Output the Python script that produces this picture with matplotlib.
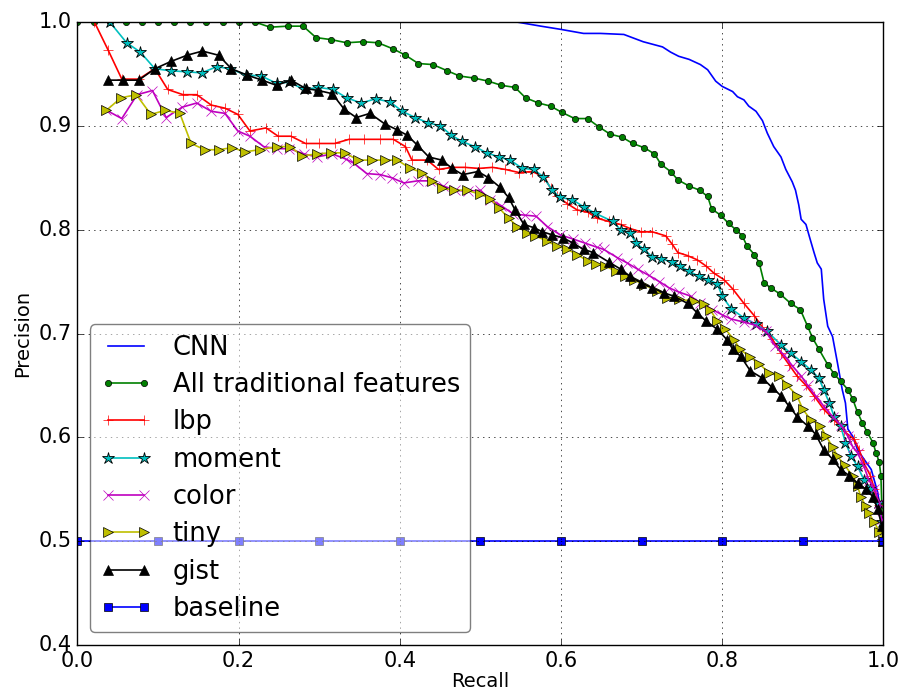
import matplotlib
matplotlib.use("Agg")
import matplotlib.pyplot as plt

# Precision/recall curves for each feature type
cnn_recall = [0.0, 0.545, 0.56, 0.575, 0.599, 0.628, 0.649, 0.678, 0.702, 0.726, 0.736, 0.746,
              0.759, 0.773, 0.782, 0.792, 0.800, 0.813, 0.819, 0.827, 0.833, 0.842, 0.850,
              0.856, 0.864, 0.873, 0.879, 0.887, 0.891, 0.895, 0.898, 0.904, 0.908, 0.914,
              0.918, 0.923, 0.926, 0.931, 0.937, 0.943, 0.949, 0.953, 0.956, 0.962, 0.968,
              0.976, 0.985, 0.993, 0.9975, 1.0]
cnn_precision = [1.0, 1.0, 0.998, 0.996, 0.993, 0.989, 0.989, 0.988, 0.981, 0.976, 0.971, 0.967,
                 0.964, 0.959, 0.954, 0.943, 0.938, 0.933, 0.928, 0.925, 0.919, 0.914, 0.905,
                 0.893, 0.880, 0.870, 0.858, 0.846, 0.838, 0.824, 0.810, 0.805, 0.794, 0.778,
                 0.768, 0.762, 0.733, 0.707, 0.697, 0.672, 0.646, 0.633, 0.608, 0.601, 0.588,
                 0.579, 0.569, 0.547, 0.524, 0.5]

all_recall = [0.0, 0.02, 0.04, 0.06, 0.08, 0.10, 0.12, 0.14, 0.16, 0.18, 0.20, 0.22,
              0.239, 0.261, 0.280, 0.296, 0.315, 0.334, 0.354, 0.373, 0.392, 0.407, 0.423,
              0.441, 0.459, 0.474, 0.492, 0.510, 0.526, 0.543, 0.556, 0.572, 0.587, 0.601,
              0.617, 0.633, 0.647, 0.661, 0.676, 0.689, 0.703, 0.716, 0.724, 0.736, 0.745,
              0.759, 0.772, 0.782, 0.787, 0.798, 0.808, 0.817, 0.825, 0.831, 0.840, 0.846,
              0.852, 0.860, 0.872, 0.885, 0.897, 0.906, 0.912, 0.920, 0.931, 0.939, 0.947,
              0.956, 0.962, 0.968, 0.974, 0.980, 0.987, 0.991, 0.995, 0.997, 0.998, 0.999, 1.0]
all_precision = [1.0, 1.0, 1.0, 1.0, 1.0, 1.0, 1.0, 1.0, 1.0, 1.0, 1.0, 1.0,
                 0.995, 0.996, 0.996, 0.985, 0.983, 0.980, 0.981, 0.980, 0.974, 0.968, 0.960,
                 0.959, 0.953, 0.948, 0.946, 0.943, 0.939, 0.937, 0.927, 0.922, 0.919, 0.913,
                 0.907, 0.907, 0.899, 0.892, 0.889, 0.883, 0.879, 0.873, 0.863, 0.856, 0.848,
                 0.842, 0.838, 0.832, 0.820, 0.814, 0.806, 0.800, 0.794, 0.784, 0.776, 0.768,
                 0.749, 0.744, 0.738, 0.729, 0.723, 0.707, 0.696, 0.685, 0.670, 0.661, 0.654,
                 0.646, 0.637, 0.624, 0.614, 0.605, 0.595, 0.585, 0.576, 0.563, 0.537, 0.514, 0.5]

lbp_recall = [0.021, 0.038, 0.055, 0.076, 0.096, 0.112, 0.131, 0.148, 0.166, 0.183, 0.199,
              0.214, 0.234, 0.249, 0.265, 0.283, 0.300, 0.319, 0.337, 0.356, 0.376, 0.392,
              0.407, 0.415, 0.434, 0.448, 0.465, 0.481, 0.498, 0.515, 0.531, 0.548, 0.564,
              0.579, 0.587, 0.595, 0.608, 0.620, 0.633, 0.645, 0.659, 0.674, 0.686, 0.699,
              0.713, 0.730, 0.738, 0.745, 0.757, 0.769, 0.780, 0.790, 0.802, 0.813, 0.827,
              0.840, 0.850, 0.862, 0.873, 0.883, 0.893, 0.904, 0.914, 0.926, 0.939, 0.951,
              0.964, 0.970, 0.976, 0.984, 0.989, 0.995, 0.998, 1.0]
lbp_precision = [1.0, 0.973, 0.945, 0.945, 0.955, 0.935, 0.930, 0.930, 0.920, 0.917, 0.911,
                 0.895, 0.898, 0.890, 0.890, 0.883, 0.883, 0.883, 0.887, 0.887, 0.887, 0.887,
                 0.880, 0.867, 0.867, 0.858, 0.860, 0.860, 0.859, 0.860, 0.858, 0.855, 0.856,
                 0.851, 0.840, 0.832, 0.825, 0.819, 0.817, 0.811, 0.808, 0.805, 0.801, 0.798,
                 0.798, 0.794, 0.786, 0.778, 0.775, 0.771, 0.765, 0.758, 0.752, 0.743, 0.729,
                 0.717, 0.706, 0.695, 0.681, 0.670, 0.659, 0.650, 0.640, 0.627, 0.617, 0.606,
                 0.598, 0.588, 0.575, 0.563, 0.550, 0.535, 0.518, 0.5]

moment_recall = [0.04, 0.061, 0.078, 0.096, 0.116, 0.136, 0.154, 0.173, 0.189, 0.209, 0.228,
                 0.247, 0.263, 0.281, 0.299, 0.317, 0.334, 0.352, 0.370, 0.388, 0.403, 0.419,
                 0.435, 0.450, 0.464, 0.477, 0.493, 0.508, 0.523, 0.537, 0.552, 0.566, 0.578,
                 0.589, 0.599, 0.614, 0.628, 0.642, 0.664, 0.674, 0.686, 0.693, 0.703, 0.713,
                 0.724, 0.738, 0.748, 0.759, 0.771, 0.782, 0.794, 0.800, 0.811, 0.827, 0.842,
                 0.856, 0.873, 0.885, 0.898, 0.910, 0.920, 0.926, 0.933, 0.939, 0.947, 0.953,
                 0.960, 0.968, 0.976, 0.984, 0.993, 0.998, 1.0]
moment_precision = [1.0, 0.980, 0.971, 0.955, 0.953, 0.952, 0.951, 0.957, 0.955, 0.949, 0.948,
                    0.941, 0.942, 0.935, 0.937, 0.935, 0.927, 0.922, 0.926, 0.923, 0.914, 0.908,
                    0.903, 0.900, 0.891, 0.885, 0.880, 0.874, 0.870, 0.867, 0.859, 0.858, 0.851,
                    0.838, 0.831, 0.829, 0.822, 0.816, 0.808, 0.800, 0.797, 0.787, 0.781, 0.774,
                    0.772, 0.769, 0.765, 0.760, 0.755, 0.752, 0.748, 0.736, 0.724, 0.715, 0.709,
                    0.702, 0.689, 0.681, 0.673, 0.665, 0.657, 0.646, 0.633, 0.620, 0.611, 0.595,
                    0.582, 0.572, 0.559, 0.550, 0.537, 0.518, 0.5]

color_recall = [0.036, 0.055, 0.074, 0.093, 0.110, 0.130, 0.148, 0.166, 0.183, 0.199, 0.214,
                0.231, 0.247, 0.263, 0.281, 0.297, 0.316, 0.333, 0.343, 0.359, 0.376, 0.390,
                0.405, 0.422, 0.437, 0.454, 0.469, 0.484, 0.500, 0.512, 0.526, 0.541, 0.555,
                0.569, 0.583, 0.599, 0.615, 0.630, 0.645, 0.653, 0.670, 0.682, 0.695, 0.709,
                0.722, 0.734, 0.746, 0.761, 0.773, 0.788, 0.800, 0.811, 0.827, 0.841, 0.854,
                0.866, 0.877, 0.887, 0.898, 0.906, 0.916, 0.926, 0.937, 0.947, 0.956, 0.962,
                0.968, 0.976, 0.982, 0.989, 0.995, 0.998, 1.0]
color_precision = [0.915, 0.907, 0.930, 0.934, 0.908, 0.918, 0.922, 0.914, 0.912, 0.895, 0.890,
                   0.880, 0.878, 0.878, 0.873, 0.870, 0.873, 0.868, 0.864, 0.854, 0.853, 0.850,
                   0.845, 0.847, 0.847, 0.842, 0.838, 0.837, 0.838, 0.829, 0.823, 0.815, 0.814,
                   0.813, 0.803, 0.795, 0.791, 0.787, 0.783, 0.781, 0.773, 0.768, 0.762, 0.756,
                   0.750, 0.744, 0.740, 0.736, 0.729, 0.723, 0.718, 0.714, 0.711, 0.708, 0.702,
                   0.688, 0.679, 0.669, 0.659, 0.650, 0.640, 0.630, 0.620, 0.612, 0.601, 0.591,
                   0.585, 0.572, 0.559, 0.550, 0.537, 0.521, 0.5]

tiny_recall = [0.036, 0.054, 0.073, 0.091, 0.109, 0.127, 0.141, 0.158, 0.175, 0.192, 0.208,
               0.226, 0.247, 0.264, 0.279, 0.297, 0.314, 0.332, 0.348, 0.365, 0.382, 0.397,
               0.413, 0.428, 0.440, 0.452, 0.467, 0.483, 0.500, 0.512, 0.523, 0.535, 0.546,
               0.558, 0.568, 0.583, 0.595, 0.608, 0.620, 0.633, 0.644, 0.655, 0.668, 0.680,
               0.690, 0.703, 0.719, 0.732, 0.746, 0.765, 0.777, 0.785, 0.794, 0.804, 0.815,
               0.822, 0.835, 0.846, 0.858, 0.871, 0.881, 0.893, 0.900, 0.910, 0.922, 0.929,
               0.937, 0.943, 0.952, 0.962, 0.968, 0.972, 0.978, 0.982, 0.989, 0.995, 1.0]
tiny_precision = [0.915, 0.927, 0.930, 0.911, 0.915, 0.912, 0.883, 0.877, 0.877, 0.879, 0.875,
                  0.877, 0.880, 0.880, 0.871, 0.873, 0.874, 0.874, 0.867, 0.867, 0.867, 0.867,
                  0.859, 0.855, 0.847, 0.840, 0.838, 0.838, 0.834, 0.830, 0.821, 0.811, 0.803,
                  0.797, 0.794, 0.789, 0.784, 0.781, 0.776, 0.770, 0.767, 0.765, 0.760, 0.755,
                  0.752, 0.747, 0.741, 0.734, 0.733, 0.731, 0.728, 0.723, 0.712, 0.704, 0.694,
                  0.685, 0.677, 0.671, 0.662, 0.659, 0.650, 0.640, 0.627, 0.617, 0.611, 0.601,
                  0.591, 0.582, 0.573, 0.563, 0.553, 0.543, 0.534, 0.527, 0.518, 0.509, 0.5]

gist_recall = [0.038, 0.057, 0.076, 0.096, 0.116, 0.136, 0.155, 0.175, 0.191, 0.210, 0.229,
               0.247, 0.265, 0.283, 0.299, 0.316, 0.331, 0.346, 0.363, 0.381, 0.397, 0.409,
               0.421, 0.436, 0.452, 0.465, 0.478, 0.497, 0.510, 0.524, 0.535, 0.543, 0.554,
               0.566, 0.577, 0.589, 0.603, 0.615, 0.628, 0.640, 0.659, 0.674, 0.686, 0.699,
               0.713, 0.728, 0.740, 0.757, 0.769, 0.780, 0.794, 0.806, 0.813, 0.823, 0.835,
               0.850, 0.862, 0.873, 0.883, 0.893, 0.906, 0.916, 0.926, 0.937, 0.947, 0.958,
               0.968, 0.978, 0.987, 0.993, 0.998, 1.0]
gist_precision = [0.944, 0.944, 0.944, 0.955, 0.962, 0.968, 0.972, 0.968, 0.955, 0.949, 0.944,
                  0.939, 0.944, 0.936, 0.934, 0.931, 0.916, 0.908, 0.912, 0.902, 0.896, 0.891,
                  0.882, 0.870, 0.867, 0.859, 0.853, 0.856, 0.850, 0.841, 0.831, 0.819, 0.805,
                  0.802, 0.798, 0.795, 0.792, 0.787, 0.781, 0.778, 0.769, 0.762, 0.755, 0.749,
                  0.744, 0.739, 0.736, 0.729, 0.720, 0.712, 0.704, 0.694, 0.685, 0.678, 0.664,
                  0.657, 0.648, 0.640, 0.630, 0.620, 0.611, 0.603, 0.588, 0.579, 0.569, 0.563,
                  0.556, 0.550, 0.543, 0.531, 0.515, 0.5]

baseline_recall = [0.0, 0.1, 0.2, 0.3, 0.4, 0.5, 0.6, 0.7, 0.8, 0.9, 1.0]
baseline_precision = [0.5] * len(baseline_recall)

plt.style.use("classic")
plt.rcParams["figure.facecolor"] = "white"
plt.rcParams["savefig.facecolor"] = "white"
plt.rcParams["lines.linewidth"] = 1.2

fig = plt.figure(figsize=(9.02, 6.94), dpi=100)
ax = fig.add_axes([0.0859, 0.0706, 0.8934, 0.8977])

ax.plot(cnn_recall, cnn_precision, "b-", label="CNN")
ax.plot(all_recall, all_precision, "g.-", markersize=9, markeredgecolor="k",
        markeredgewidth=0.5, label="All traditional features")
ax.plot(lbp_recall, lbp_precision, "r+-", markersize=7, label="lbp")
ax.plot(moment_recall, moment_precision, "c*-", markersize=9, markeredgecolor="k",
        markeredgewidth=0.6, label="moment")
ax.plot(color_recall, color_precision, "mx-", markersize=7, label="color")
ax.plot(tiny_recall, tiny_precision, "y>-", markersize=7, markeredgecolor="k",
        markeredgewidth=0.5, label="tiny")
ax.plot(gist_recall, gist_precision, "k^-", markersize=7, label="gist")
ax.plot(baseline_recall, baseline_precision, "bs-", markersize=6, markeredgecolor="k",
        markeredgewidth=0.5, label="baseline")

ax.set_xlim(0.0, 1.0)
ax.set_ylim(0.4, 1.0)
ax.set_xlabel("Recall", fontsize=14, labelpad=1)
ax.set_ylabel("Precision", fontsize=14)
ax.tick_params(labelsize=15)
ax.grid(True)

ax.legend(loc="lower left", fontsize=18.5, numpoints=2, fancybox=True,
          framealpha=0.5, labelspacing=0.44)

plt.savefig("out.png", dpi=100)
